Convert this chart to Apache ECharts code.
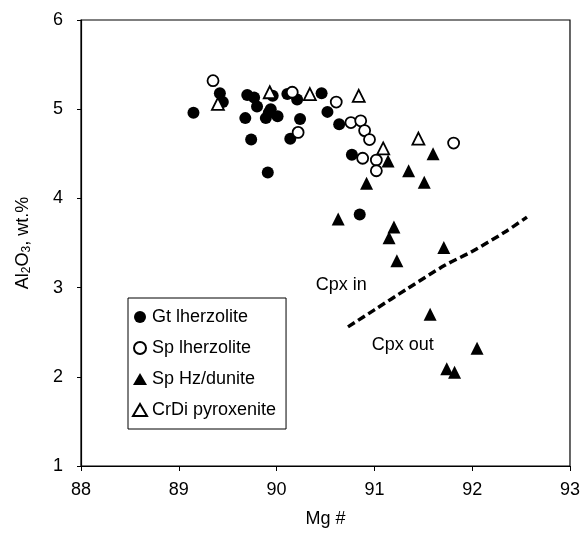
<!doctype html>
<html lang="en">
<head>
    <meta charset="UTF-8">
    <title>Al2O3 vs Mg#</title>
    <script type="text/javascript" src="https://cdn.jsdelivr.net/npm/echarts@6/dist/echarts.min.js"></script>
    <style>
        html, body { margin: 0; padding: 0; background: #fff; }
        #main { width: 583px; height: 533px; }
    </style>
</head>
<body>
<div id="main"></div>
<script type="text/javascript">
// Mg#, Al2O3 wt.%
var gtLherzolite = [
    [89.15, 4.96], [89.42, 5.18], [89.45, 5.08], [89.70, 5.16], [89.77, 5.13],
    [89.80, 5.03], [89.68, 4.90], [89.74, 4.66], [89.91, 4.29], [89.96, 5.15],
    [89.89, 4.90], [89.94, 5.00], [90.01, 4.92], [89.92, 4.96], [90.11, 5.17],
    [90.21, 5.11], [90.46, 5.18], [90.24, 4.89], [90.14, 4.67], [90.52, 4.97],
    [90.64, 4.83], [90.77, 4.49], [90.85, 3.82]
];
var spLherzolite = [
    [89.35, 5.32], [90.16, 5.19], [90.22, 4.74], [90.61, 5.08], [90.76, 4.85],
    [90.86, 4.87], [90.90, 4.76], [90.95, 4.66], [90.88, 4.45], [91.02, 4.43],
    [91.02, 4.31], [91.81, 4.62]
];
var spHzDunite = [
    [91.14, 4.42], [91.60, 4.50], [91.35, 4.31], [91.51, 4.18], [90.92, 4.17],
    [90.63, 3.77], [91.20, 3.68], [91.15, 3.56], [91.71, 3.45], [91.23, 3.30],
    [91.57, 2.70], [92.05, 2.32], [91.74, 2.09], [91.82, 2.05]
];
var crDiPyroxenite = [
    [89.40, 5.06], [89.93, 5.19], [90.34, 5.17], [90.84, 5.15], [91.09, 4.56],
    [91.45, 4.67]
];
// Cpx in / Cpx out boundary
var cpxBoundary = [
    [90.73, 2.56], [91.00, 2.75], [91.34, 2.99], [91.72, 3.25], [91.99, 3.40],
    [92.33, 3.62], [92.56, 3.79]
];
var notes = [
    { value: [90.66, 3.03], text: 'Cpx in' },
    { value: [91.29, 2.36], text: 'Cpx out' }
];

var font = 'Arial, "Liberation Sans", sans-serif';

var myChart = echarts.init(document.getElementById('main'));

option = {
    backgroundColor: '#fff',
    animation: false,
    textStyle: { fontFamily: font, color: '#000' },
    grid: {
        left: 81, right: 9, top: 20, bottom: 64,
        show: true, borderColor: '#000', borderWidth: 1.2
    },
    legend: {
        orient: 'vertical',
        left: 128, top: 298,
        width: 158,
        padding: [10, 10, 10, 4],
        itemGap: 13,
        itemWidth: 14, itemHeight: 12,
        borderColor: '#000', borderWidth: 1,
        textStyle: { fontFamily: font, fontSize: 18, color: '#000' },
        data: ['Gt lherzolite', 'Sp lherzolite', 'Sp Hz/dunite', 'CrDi pyroxenite']
    },
    xAxis: {
        type: 'value',
        min: 88, max: 93, interval: 1,
        name: 'Mg #',
        nameLocation: 'middle',
        nameGap: 44,
        nameTextStyle: { fontFamily: font, fontSize: 18, color: '#000' },
        axisLine: { lineStyle: { color: '#000', width: 1.2 } },
        axisTick: { inside: false, length: 5, lineStyle: { color: '#000' } },
        axisLabel: { fontFamily: font, fontSize: 18, color: '#000', margin: 15 },
        splitLine: { show: false }
    },
    yAxis: {
        type: 'value',
        min: 1, max: 6, interval: 1,
        name: 'Al{sub|2}O{sub|3}, wt.%',
        nameLocation: 'middle',
        nameRotate: 90,
        nameGap: 48,
        nameTextStyle: {
            fontFamily: font, fontSize: 18, color: '#000',
            rich: {
                sub: { fontSize: 12, verticalAlign: 'bottom', padding: [8, 0, 0, 0] }
            }
        },
        axisLine: { lineStyle: { color: '#000', width: 1.2 } },
        axisTick: { inside: false, length: 4, lineStyle: { color: '#000' } },
        axisLabel: { fontFamily: font, fontSize: 18, color: '#000', margin: 18 },
        splitLine: { show: false }
    },
    series: [
        {
            name: 'Gt lherzolite',
            type: 'scatter',
            symbol: 'circle',
            symbolSize: 12,
            itemStyle: { color: '#000', opacity: 1 },
            data: gtLherzolite
        },
        {
            name: 'Sp lherzolite',
            type: 'scatter',
            symbol: 'circle',
            symbolSize: 11,
            itemStyle: { color: '#fff', borderColor: '#000', borderWidth: 1.8, opacity: 1 },
            data: spLherzolite
        },
        {
            name: 'Sp Hz/dunite',
            type: 'scatter',
            symbol: 'triangle',
            symbolSize: 13,
            itemStyle: { color: '#000', opacity: 1 },
            data: spHzDunite
        },
        {
            name: 'CrDi pyroxenite',
            type: 'scatter',
            symbol: 'triangle',
            symbolSize: 12,
            itemStyle: { color: '#fff', borderColor: '#000', borderWidth: 1.8, opacity: 1 },
            data: crDiPyroxenite
        },
        {
            name: 'boundary',
            type: 'line',
            smooth: 0.3,
            showSymbol: false,
            silent: true,
            lineStyle: { color: '#000', width: 3.5, type: [8, 4] },
            data: cpxBoundary
        },
        {
            name: 'notes',
            type: 'scatter',
            silent: true,
            symbolSize: 0,
            itemStyle: { opacity: 1 },
            label: {
                show: true,
                position: 'inside',
                fontFamily: font,
                fontSize: 18,
                color: '#000',
                opacity: 1,
                formatter: function (p) { return p.data.text; }
            },
            data: notes
        }
    ]
};

myChart.setOption(option);
</script>
</body>
</html>
